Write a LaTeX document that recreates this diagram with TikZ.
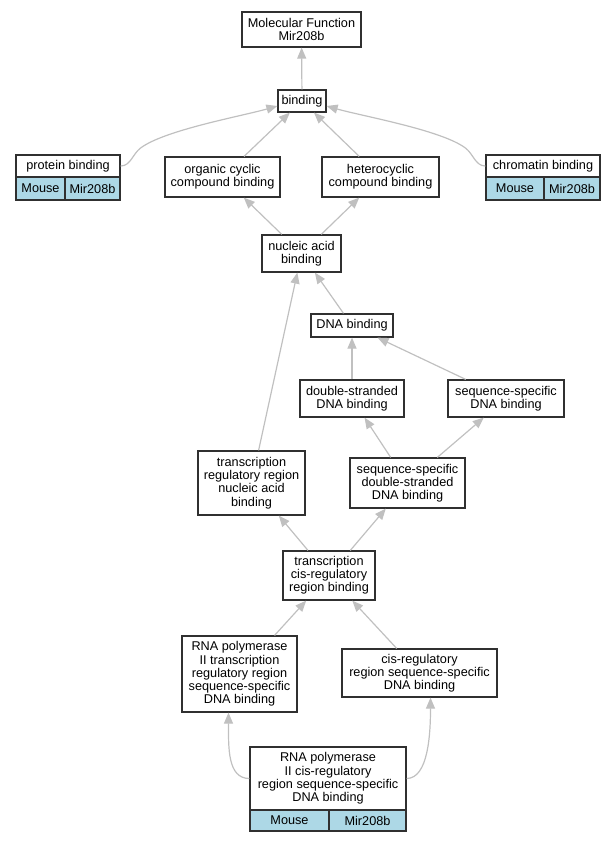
\documentclass[tikz,border=0pt]{standalone}
\usepackage{fontspec}
\setmainfont{Liberation Sans}
\usetikzlibrary{arrows.meta}
\definecolor{isagray}{HTML}{C0C0C0}
\definecolor{cellblue}{HTML}{ADD8E6}
\definecolor{boxline}{HTML}{303030}

\begin{document}
\begin{tikzpicture}[
  x=1pt, y=-1pt,
  font=\fontsize{12.7}{13.2}\selectfont,
  every node/.style={align=center},
  termbox/.style={rectangle, draw=boxline, line width=1.2pt, fill=white, inner sep=0pt},
  cellbox/.style={rectangle, draw=boxline, line width=1.2pt, fill=cellblue, inner sep=0pt,
                  minimum height=23pt},
  isa/.style={draw=isagray, line width=1.2pt, -{Triangle[length=11pt, width=9pt, fill=isagray]}}
]
\useasboundingbox (0, 0) rectangle (615, 843);

% Root
\node[termbox, minimum width=119pt, minimum height=35pt] (molfn) at (301.5, 29.5)
  {Molecular Function\\Mir208b};
\node[termbox, minimum width=48pt, minimum height=22pt] (bind) at (302, 101) {binding};

% Annotated terms at the sides
\node[termbox, minimum width=104pt, minimum height=22pt] (protbind) at (68, 166) {protein binding};
\node[cellbox, minimum width=49pt] (protmouse) at (40.5, 188.5) {Mouse};
\node[cellbox, minimum width=55pt] (protgene)  at (92.5, 188.5) {Mir208b};

\node[termbox, minimum width=114pt, minimum height=22pt] (chrombind) at (543, 166) {chromatin binding};
\node[cellbox, minimum width=58pt] (chrommouse) at (515, 188.5) {Mouse};
\node[cellbox, minimum width=56pt] (chromgene)  at (572, 188.5) {Mir208b};

% Compound binding
\node[termbox, minimum width=115pt, minimum height=40pt] (orgcyc) at (222.5, 177)
  {organic cyclic\\compound binding};
\node[termbox, minimum width=117pt, minimum height=40pt] (hetcyc) at (380.5, 177)
  {heterocyclic\\compound binding};

% Nucleic acid / DNA
\node[termbox, minimum width=79pt, minimum height=37pt] (nucacid) at (301.5, 253.5)
  {nucleic acid\\binding};
\node[termbox, minimum width=82pt, minimum height=23pt] (dnabind) at (352, 325.5) {DNA binding};
\node[termbox, minimum width=104pt, minimum height=37pt] (dsdna) at (352, 398.5)
  {double-stranded\\DNA binding};
\node[termbox, minimum width=116pt, minimum height=37pt] (ssdna) at (506, 398.5)
  {sequence-specific\\DNA binding};
\node[termbox, minimum width=107pt, minimum height=64pt] (trrnuc) at (251.5, 483)
  {transcription\\regulatory region\\nucleic acid\\binding};
\node[termbox, minimum width=115pt, minimum height=50pt] (ssdsdna) at (407.5, 483)
  {sequence-specific\\double-stranded\\DNA binding};

% Cis-regulatory
\node[termbox, minimum width=92pt, minimum height=49pt] (tcisreg) at (329, 575.5)
  {transcription\\cis-regulatory\\region binding};
\node[termbox, minimum width=115pt, minimum height=76pt] (pol2trr) at (239.5, 674)
  {RNA polymerase\\II transcription\\regulatory region\\sequence-specific\\DNA binding};
\node[termbox, minimum width=155pt, minimum height=48pt] (cisreg) at (419.5, 673)
  {cis-regulatory\\region sequence-specific\\DNA binding};

% Bottom term
\node[termbox, minimum width=156pt, minimum height=63pt] (pol2cis) at (328, 778.5)
  {RNA polymerase\\II cis-regulatory\\region sequence-specific\\DNA binding};
\node[cellbox, minimum width=79pt, minimum height=21pt] (pol2mouse) at (289.5, 820.5) {Mouse};
\node[cellbox, minimum width=77pt, minimum height=21pt] (pol2gene)  at (367.5, 820.5) {Mir208b};

% Edges
\draw[isa] (bind) -- (molfn);
\draw[isa] (protbind.east) .. controls +(10, 0) and +(-8, 6) .. ++(20, -18)
  .. controls +(24, -18) and +(-35, 10) .. ([yshift=-5pt]bind.west);
\draw[isa] (chrombind.west) .. controls +(-10, 0) and +(8, 6) .. ++(-20, -18)
  .. controls +(-24, -18) and +(35, 10) .. ([yshift=-5pt]bind.east);
\draw[isa] (orgcyc) -- (bind);
\draw[isa] (hetcyc) -- (bind);
\draw[isa] (nucacid) -- (orgcyc);
\draw[isa] (nucacid) -- (hetcyc);
\draw[isa] (dnabind) -- (nucacid);
\draw[isa] (trrnuc) -- (nucacid);
\draw[isa] (dsdna) -- (dnabind);
\draw[isa] (ssdna) -- (dnabind);
\draw[isa] (ssdsdna) -- (dsdna);
\draw[isa] (ssdsdna) -- (ssdna);
\draw[isa] (tcisreg) -- (trrnuc);
\draw[isa] (tcisreg) -- (ssdsdna);
\draw[isa] (pol2trr) -- (tcisreg);
\draw[isa] (cisreg) -- (tcisreg);
\draw[isa] (pol2cis.west) .. controls +(-22, 0) and +(0, 35) .. ([xshift=-11pt]pol2trr.south);
\draw[isa] (pol2cis.east) .. controls +(22, 0) and +(0, 35) .. ([xshift=11pt]cisreg.south);

\end{tikzpicture}
\end{document}
